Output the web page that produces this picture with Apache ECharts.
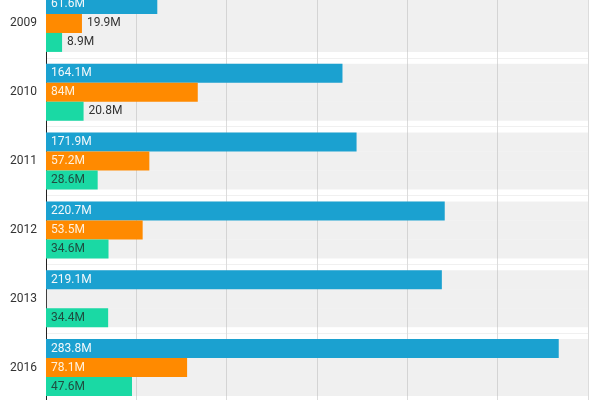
<!DOCTYPE html>
<html>
<head>
<meta charset="utf-8">
<script src="https://cdn.jsdelivr.net/npm/echarts@6/dist/echarts.min.js"></script>
<style>
html, body { margin: 0; padding: 0; background: #fff; }
#chart { width: 600px; height: 400px; }
</style>
</head>
<body>
<div id="chart"></div>
<script>
'use strict';

const years = ['2009', '2010', '2011', '2012', '2013', '2016'];
const blueValues = [61.6, 164.1, 171.9, 220.7, 219.1, 283.8];
const orangeValues = [19.9, 84, 57.2, 53.5, 0, 78.1];
const greenValues = [8.9, 20.8, 28.6, 34.6, 34.4, 47.6];

const colors = ['#1ba1d0', '#ff8a00', '#1ad9a4'];
const insideText = ['#f4f8fa', '#fff1dc', '#1f4d40'];

// short bars get their label outside on the right
function toData(values, idx) {
    return values.map(function (v) {
        if (!v) {
            return { value: v, label: { show: false } };
        }
        const outside = v < 25;
        return {
            value: v,
            label: {
                position: outside ? 'right' : 'insideLeft',
                color: outside ? '#333' : insideText[idx],
            },
        };
    });
}

function makeSeries(values, idx) {
    return {
        type: 'bar',
        data: toData(values, idx),
        barWidth: 19,
        barGap: '0%',
        itemStyle: { color: colors[idx] },
        showBackground: true,
        backgroundStyle: { color: 'rgba(180,180,180,0.2)' },
        label: {
            show: true,
            fontFamily: 'Roboto',
            fontSize: 12,
            distance: 5,
            formatter: function (p) { return p.value + 'M'; },
        },
        animation: false,
    };
}

const chart = echarts.init(document.getElementById('chart'));
chart.setOption({
    animation: false,
    grid: {
        left: 46, right: 12, top: -11, bottom: -2,
        containLabel: false,
        outerBoundsMode: 'none',
    },
    xAxis: {
        type: 'value',
        min: 0,
        max: 300,
        interval: 50,
        axisLabel: { show: false },
        axisLine: { show: false },
        axisTick: { show: false },
        splitLine: { lineStyle: { color: '#dcdcdc', width: 1 } },
    },
    yAxis: {
        type: 'category',
        data: years,
        inverse: true,
        axisLine: { lineStyle: { color: '#222', width: 1 } },
        axisTick: { length: 36, lineStyle: { color: '#e6e6e6' } },
        axisLabel: { color: '#333', fontFamily: 'Roboto', fontSize: 12, margin: 9 },
        splitLine: { show: true, lineStyle: { color: '#f0f0f0' } },
    },
    series: [
        makeSeries(blueValues, 0),
        makeSeries(orangeValues, 1),
        makeSeries(greenValues, 2),
    ],
});
</script>
</body>
</html>
